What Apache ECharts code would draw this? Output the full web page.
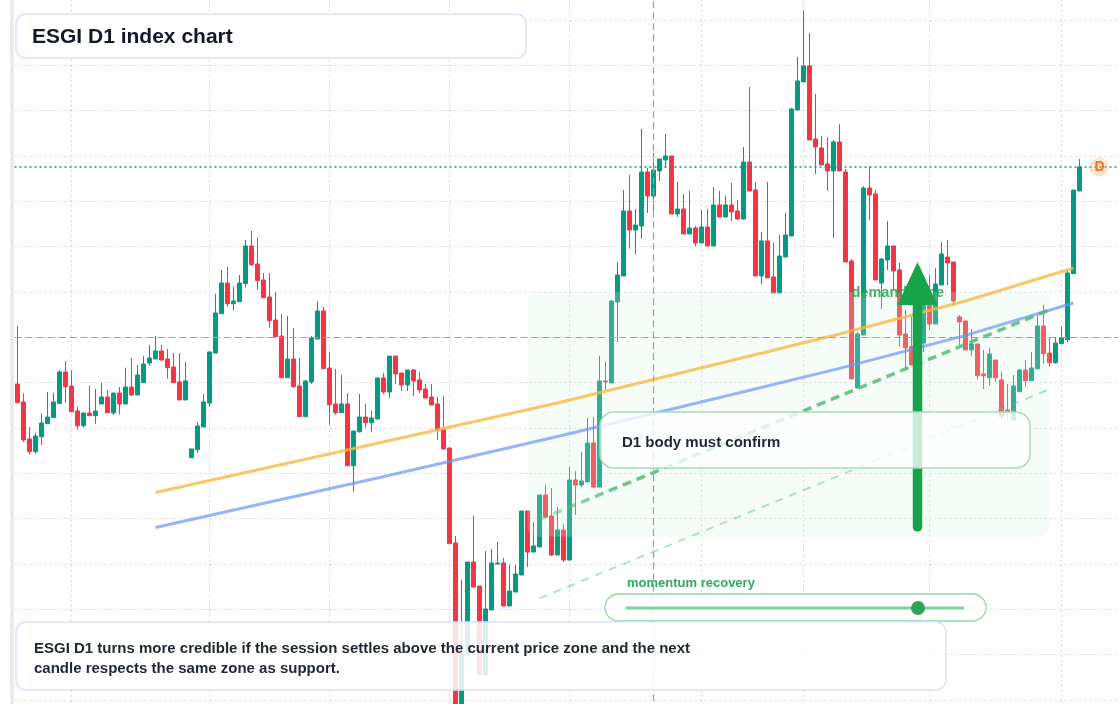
<!DOCTYPE html>
<html>
<head>
<meta charset="utf-8">
<title>ESGI D1 index chart</title>
<script src="https://cdn.jsdelivr.net/npm/echarts@6/dist/echarts.min.js"></script>
<style>
    html, body { margin: 0; padding: 0; background: #ffffff; }
    #chart { width: 1120px; height: 704px; }
</style>
</head>
<body>
<div id="chart"></div>
<script>
// daily candles: [open, close, low, high]
var candles = [
    [99.85, 97.79, 97.79, 106.25], [97.87, 93.68, 93.46, 98.83], [93.79, 92.39, 92.06, 95.11], [92.39, 94.12, 92.17, 94.48],
    [94.04, 95.55, 93.13, 96.62], [95.48, 96.21, 95.48, 98.97], [96.14, 97.87, 96.14, 98.86], [97.72, 101.18, 97.72, 101.40],
    [101.18, 99.56, 97.79, 102.39], [99.63, 96.80, 96.80, 101.32], [96.88, 95.25, 94.81, 97.32], [95.25, 96.66, 95.03, 96.66],
    [96.66, 96.36, 96.36, 99.63], [96.36, 96.88, 95.48, 99.30], [97.65, 98.42, 97.65, 99.97], [98.42, 96.69, 96.69, 99.19],
    [96.66, 98.86, 96.43, 98.86], [98.86, 97.65, 96.54, 99.52], [97.65, 99.52, 97.65, 101.65], [99.52, 98.64, 98.53, 102.72],
    [98.64, 100.85, 98.64, 101.95], [100.00, 102.06, 100.00, 102.94], [102.17, 102.72, 101.87, 104.16], [102.61, 103.50, 102.61, 105.15],
    [103.50, 102.50, 102.39, 104.16], [102.61, 101.65, 100.44, 103.72], [101.73, 100.00, 100.00, 103.27], [100.08, 98.09, 98.09, 103.27],
    [98.09, 100.19, 98.09, 102.28], [91.73, 92.69, 91.73, 92.69], [92.61, 95.22, 92.28, 95.66], [95.11, 97.87, 95.11, 98.75],
    [97.76, 103.39, 97.35, 103.39], [103.27, 107.69, 103.27, 109.78], [107.61, 110.99, 107.61, 112.43], [110.99, 108.71, 108.38, 112.76],
    [108.71, 109.01, 107.94, 110.55], [108.93, 110.99, 108.93, 111.88], [110.92, 115.08, 110.48, 115.74], [115.08, 113.01, 112.87, 116.73],
    [113.09, 111.25, 110.26, 115.99], [111.33, 109.37, 109.37, 112.10], [109.45, 106.84, 106.06, 112.10], [106.91, 105.07, 105.07, 110.00],
    [105.15, 100.55, 100.55, 107.58], [100.55, 102.61, 100.55, 107.36], [102.61, 99.56, 99.45, 106.03], [99.63, 96.25, 96.25, 102.72],
    [96.25, 100.19, 96.25, 100.30], [100.08, 104.93, 99.86, 105.15], [104.82, 107.91, 104.82, 109.01], [107.91, 101.54, 101.54, 108.35],
    [101.62, 97.57, 95.36, 103.39], [97.65, 96.69, 96.47, 101.51], [96.69, 97.65, 96.69, 100.85], [97.65, 90.84, 90.84, 98.86],
    [90.84, 94.67, 87.98, 94.67], [94.59, 96.21, 94.48, 98.75], [96.21, 95.59, 95.03, 97.65], [95.59, 96.10, 94.59, 96.88],
    [95.99, 100.52, 95.99, 100.52], [100.52, 98.97, 98.75, 101.07], [98.97, 102.94, 98.31, 102.94], [102.94, 100.96, 99.86, 102.94],
    [101.07, 99.75, 99.08, 101.07], [99.75, 101.40, 99.08, 101.40], [101.40, 100.19, 98.53, 101.51], [100.30, 99.19, 98.86, 101.18],
    [99.30, 98.31, 98.31, 99.86], [98.42, 97.54, 97.54, 99.86], [97.65, 94.78, 93.68, 98.42], [94.89, 92.69, 92.58, 98.53],
    [92.80, 82.24, 82.24, 92.80], [82.32, 64.56, 63.68, 83.09], [64.56, 69.96, 63.90, 78.24], [69.96, 80.22, 69.96, 80.22],
    [80.22, 77.46, 77.35, 85.30], [77.57, 67.76, 67.76, 77.57], [67.76, 75.04, 67.76, 81.43], [74.93, 80.11, 74.93, 81.66],
    [80.00, 80.11, 80.00, 82.43], [80.11, 75.37, 75.37, 80.66], [75.37, 77.02, 75.37, 79.89], [76.91, 78.90, 76.91, 79.89],
    [78.79, 85.85, 78.79, 85.85], [85.85, 81.32, 79.67, 85.85], [81.32, 81.99, 81.32, 84.63], [81.88, 87.61, 81.88, 87.61],
    [87.61, 85.18, 85.18, 88.71], [85.30, 80.99, 80.88, 88.38], [80.99, 83.75, 80.99, 86.29], [83.75, 80.44, 80.22, 84.41],
    [80.44, 89.27, 80.44, 90.70], [89.27, 88.71, 85.41, 90.26], [88.71, 89.16, 88.49, 92.36], [89.05, 93.35, 89.05, 96.10],
    [93.35, 88.49, 88.38, 96.21], [88.49, 100.19, 88.49, 102.94], [100.19, 100.08, 99.19, 102.28], [99.97, 109.01, 99.97, 109.12],
    [108.90, 111.88, 104.49, 113.31], [111.77, 118.94, 111.77, 121.25], [118.94, 116.84, 114.78, 122.91], [116.84, 117.39, 114.12, 119.16],
    [117.28, 123.24, 115.88, 127.98], [123.24, 120.59, 118.72, 123.68], [120.59, 123.46, 119.05, 125.33], [123.35, 124.67, 122.25, 124.67],
    [124.56, 125.00, 123.68, 127.43], [125.00, 118.61, 118.61, 125.00], [118.61, 119.16, 118.28, 122.14], [119.16, 116.40, 116.40, 120.81],
    [116.40, 117.06, 116.40, 121.14], [117.06, 115.41, 115.08, 117.28], [115.41, 117.17, 115.41, 119.05], [117.17, 115.08, 115.08, 119.16],
    [115.08, 119.60, 115.08, 121.58], [119.60, 118.28, 118.28, 121.14], [118.28, 119.60, 118.28, 120.59], [119.60, 118.83, 117.83, 122.03],
    [118.94, 118.05, 117.94, 120.15], [118.05, 124.34, 118.05, 126.00], [124.34, 121.14, 121.14, 132.61], [121.25, 111.77, 111.77, 122.14],
    [111.77, 115.63, 110.88, 116.62], [115.63, 111.55, 111.55, 122.14], [111.66, 109.89, 109.89, 115.41], [109.89, 113.97, 109.89, 116.29],
    [113.86, 116.29, 113.86, 118.72], [116.18, 130.19, 116.18, 130.30], [130.08, 133.28, 130.08, 135.92], [133.17, 134.93, 133.17, 141.03],
    [134.93, 126.77, 126.77, 138.57], [126.88, 126.00, 123.02, 131.84], [125.89, 124.01, 124.01, 127.21], [124.12, 123.35, 121.14, 127.10],
    [123.35, 126.55, 115.96, 126.77], [126.55, 123.35, 123.35, 128.53], [123.24, 113.31, 113.31, 123.57], [113.42, 100.41, 100.41, 113.64],
    [99.41, 105.37, 99.41, 105.59], [105.26, 121.47, 105.26, 121.69], [121.47, 120.70, 117.94, 123.79], [120.81, 111.33, 111.33, 121.25],
    [110.99, 113.64, 108.13, 113.75], [113.53, 115.08, 112.43, 117.83], [115.08, 112.32, 110.22, 115.08], [112.43, 105.26, 103.97, 113.20],
    [105.37, 103.83, 101.40, 108.02], [103.97, 101.95, 101.95, 107.36], [102.06, 104.27, 101.62, 104.93], [104.38, 108.57, 103.39, 109.12],
    [108.79, 106.47, 105.81, 111.88], [106.47, 110.88, 106.47, 112.65], [110.77, 114.19, 110.77, 115.52], [113.86, 113.20, 110.77, 115.74],
    [113.31, 109.01, 108.46, 113.31], [107.25, 106.69, 104.16, 107.47], [106.80, 103.61, 103.61, 106.80], [103.61, 104.27, 102.94, 105.92],
    [104.27, 100.77, 100.33, 104.27], [100.96, 100.74, 99.30, 103.61], [100.55, 103.16, 99.67, 103.83], [102.50, 100.55, 100.11, 102.50],
    [100.30, 96.25, 95.88, 101.21], [96.99, 96.77, 95.88, 99.86], [95.88, 99.63, 95.88, 100.85], [99.00, 101.40, 99.00, 101.51],
    [101.40, 100.22, 99.56, 102.50], [100.22, 101.62, 100.22, 103.39], [101.54, 106.25, 101.54, 107.47], [106.25, 103.20, 102.09, 108.57],
    [103.27, 102.20, 101.76, 105.04], [102.20, 104.38, 102.09, 105.04], [104.30, 104.93, 104.30, 106.14], [104.74, 112.10, 104.41, 112.43],
    [112.02, 121.25, 112.02, 121.25], [121.14, 123.79, 121.14, 124.67]
];

// bars on the axis, including a few empty sessions on the right
var barCount = 184;
// sessions that open a new month (vertical guides)
var monthStarts = [9, 32, 52, 72, 92, 114, 131, 152, 174];

// trend lines [barIndex, price]
var upperTrend = [[23, 87.88], [60, 93.31], [90, 97.76], [120, 102.61], [137, 105.37], [158, 109.01], [176, 112.65]];
var lowerTrend = [[23, 84.03], [60, 89.49], [90, 94.06], [120, 98.84], [137, 101.58], [158, 105.22], [176, 108.79]];
var supportRay = [[87, 84.92], [172, 108.04]];
var supportRayLow = [[87, 76.21], [172, 99.27]];

// demand zone [fromBar, toBar, top, bottom] and its label point
var demandZone = [[85, 172, 110, 83]];
var demandLabel = [139, 109.85];
// breakout arrow [bar, from, to]
var breakoutArrow = [[150, 84.1, 113.31]];

var crossBar = 106;
var crossPrice = 105;
var markerBar = 180;

var categories = [];
(function () {
    var d = new Date(2024, 8, 2);
    function pad(n) { return n < 10 ? '0' + n : '' + n; }
    while (categories.length < barCount) {
        var wd = d.getDay();
        if (wd !== 0 && wd !== 6) {
            categories.push(d.getFullYear() + '-' + pad(d.getMonth() + 1) + '-' + pad(d.getDate()));
        }
        d.setDate(d.getDate() + 1);
    }
})();

var FONT = '"Liberation Sans", Arial, sans-serif';
var UP = '#089981', DOWN = '#f23645';
var lastClose = candles[candles.length - 1][1];

var chart = echarts.init(document.getElementById('chart'));

var option = {
    animation: false,
    backgroundColor: '#ffffff',
    grid: { left: 14.5, top: -25.33, width: barCount * 6, height: 770.67, outerBoundsMode: 'none', containLabel: false },
    xAxis: {
        type: 'category',
        data: categories,
        boundaryGap: true,
        axisLine: { show: false },
        axisTick: { show: false },
        axisLabel: { show: false },
        splitLine: { show: false }
    },
    yAxis: {
        type: 'value',
        min: 60,
        max: 145,
        interval: 5,
        position: 'left',
        offset: 3,
        axisLine: { show: true, lineStyle: { color: '#e9e9e9', width: 3.5 } },
        axisTick: { show: false },
        axisLabel: { show: false },
        splitLine: { show: true, lineStyle: { color: '#d6d6d6', width: 1, type: [2, 3] } }
    },
    series: [
        {
            // month guides, behind the candles
            type: 'custom',
            z: 1,
            silent: true,
            data: monthStarts.map(function (i) { return [i]; }),
            renderItem: function (params, api) {
                var a = api.coord([api.value(0), 145]);
                var b = api.coord([api.value(0), 60]);
                return {
                    type: 'line',
                    shape: { x1: a[0], y1: a[1], x2: b[0], y2: b[1] },
                    style: { stroke: '#d6d6d6', lineWidth: 1, lineDash: [2, 3] }
                };
            }
        },
        {
            type: 'candlestick',
            z: 2,
            barWidth: 4,
            data: candles,
            itemStyle: { color: UP, color0: DOWN, borderColor: UP, borderColor0: DOWN, borderWidth: 1 },
            emphasis: { disabled: true },
            markLine: {
                silent: true,
                symbol: ['none', 'none'],
                label: { show: false },
                data: [
                    { yAxis: lastClose, lineStyle: { color: UP, width: 1.5, type: [2, 3] } },
                    { yAxis: crossPrice, lineStyle: { color: '#a0a0a0', width: 1.2, type: [7, 4] } },
                    { xAxis: categories[crossBar], lineStyle: { color: '#a0a0a0', width: 1.2, type: [7, 4] } }
                ]
            },
            markPoint: {
                silent: true,
                symbol: 'circle',
                symbolSize: 19,
                symbolOffset: [2, 0],
                itemStyle: { color: 'rgba(253,186,116,0.35)' },
                label: { show: true, formatter: 'D', color: '#f97316', fontWeight: 'bold', fontSize: 14, fontFamily: FONT },
                data: [{ coord: [categories[markerBar], lastClose] }]
            }
        },
        {
            // demand zone, washes over the candles
            type: 'custom',
            z: 3,
            silent: true,
            data: demandZone,
            renderItem: function (params, api) {
                var p0 = api.coord([api.value(0), api.value(2)]);
                var p1 = api.coord([api.value(1), api.value(3)]);
                var lp = api.coord(demandLabel);
                return {
                    type: 'group',
                    children: [
                        {
                            type: 'rect',
                            shape: { x: p0[0], y: p0[1], width: p1[0] - p0[0], height: p1[1] - p0[1], r: 10 },
                            style: { fill: 'rgba(214,244,224,0.22)' }
                        },
                        {
                            type: 'text',
                            x: lp[0],
                            y: lp[1],
                            style: {
                                text: 'demand zone',
                                fill: 'rgba(34,163,79,0.85)',
                                font: 'bold 14.5px ' + FONT,
                                align: 'left',
                                verticalAlign: 'middle'
                            }
                        }
                    ]
                };
            }
        },
        {
            type: 'line', z: 4, silent: true, symbol: 'none', data: upperTrend,
            lineStyle: { color: '#f5b945', width: 3, opacity: 0.8 }
        },
        {
            type: 'line', z: 4, silent: true, symbol: 'none', data: lowerTrend,
            lineStyle: { color: '#6b96f0', width: 3, opacity: 0.7 }
        },
        {
            type: 'line', z: 4, silent: true, symbol: 'none', data: supportRay,
            lineStyle: {
                width: 3.5,
                type: [9, 6],
                color: {
                    type: 'linear', x: 0, y: 0, x2: 1, y2: 0,
                    colorStops: [
                        { offset: 0, color: 'rgba(72,184,112,0.35)' },
                        { offset: 0.15, color: 'rgba(72,184,112,0.8)' },
                        { offset: 1, color: 'rgba(72,184,112,0.8)' }
                    ]
                }
            }
        },
        {
            type: 'line', z: 4, silent: true, symbol: 'none', data: supportRayLow,
            lineStyle: { color: 'rgba(88,190,125,0.45)', width: 2, type: [8, 7] }
        },
        {
            type: 'custom',
            z: 5,
            silent: true,
            data: breakoutArrow,
            renderItem: function (params, api) {
                var b = api.coord([api.value(0), api.value(1)]);
                var t = api.coord([api.value(0), api.value(2)]);
                var headH = 43, headW = 40;
                return {
                    type: 'group',
                    children: [
                        {
                            type: 'line',
                            shape: { x1: b[0], y1: b[1], x2: t[0], y2: t[1] + headH - 2 },
                            style: { stroke: '#16a34a', lineWidth: 9.5, lineCap: 'round' }
                        },
                        {
                            type: 'polygon',
                            shape: { points: [[t[0], t[1]], [t[0] - headW / 2, t[1] + headH], [t[0] + headW / 2, t[1] + headH]] },
                            style: { fill: '#16a34a' }
                        }
                    ]
                };
            }
        }
    ],
    graphic: [
        {
            type: 'rect', z: 100, silent: true,
            shape: { x: 16, y: 14, width: 510, height: 44, r: 10 },
            style: { fill: 'rgba(255,255,255,0.92)', stroke: '#d6e3fb', lineWidth: 1.5 }
        },
        {
            type: 'text', z: 101, silent: true, x: 32, y: 37,
            style: { text: 'ESGI D1 index chart', font: 'bold 21px ' + FONT, fill: '#111827', verticalAlign: 'middle' }
        },
        {
            type: 'rect', z: 100, silent: true,
            shape: { x: 600, y: 412, width: 430, height: 56, r: 14 },
            style: { fill: 'rgba(255,255,255,0.78)', stroke: '#a6dcb8', lineWidth: 1.5 }
        },
        {
            type: 'text', z: 101, silent: true, x: 622, y: 443,
            style: { text: 'D1 body must confirm', font: 'bold 15px ' + FONT, fill: '#1f2733', verticalAlign: 'middle' }
        },
        {
            type: 'text', z: 101, silent: true, x: 627, y: 583,
            style: { text: 'momentum recovery', font: 'bold 13px ' + FONT, fill: '#2faa5c', verticalAlign: 'middle' }
        },
        {
            type: 'rect', z: 100, silent: true,
            shape: { x: 605, y: 594, width: 381, height: 27, r: 13.5 },
            style: { fill: 'rgba(255,255,255,0.8)', stroke: '#95d5a9', lineWidth: 1.3 }
        },
        {
            type: 'line', z: 101, silent: true,
            shape: { x1: 627, y1: 608, x2: 963, y2: 608 },
            style: { stroke: '#7fd09b', lineWidth: 3, lineCap: 'round' }
        },
        {
            type: 'circle', z: 102, silent: true,
            shape: { cx: 918, cy: 608, r: 7 },
            style: { fill: '#2ea35a' }
        },
        {
            type: 'rect', z: 100, silent: true,
            shape: { x: 16, y: 622, width: 930, height: 68, r: 10 },
            style: { fill: 'rgba(255,255,255,0.86)', stroke: '#d6e3fb', lineWidth: 1.5 }
        },
        {
            type: 'text', z: 101, silent: true, x: 34, y: 658.5,
            style: {
                text: 'ESGI D1 turns more credible if the session settles above the current price zone and the next\ncandle respects the same zone as support.',
                font: 'bold 15px ' + FONT,
                lineHeight: 20,
                fill: '#1f2733',
                verticalAlign: 'middle'
            }
        }
    ]
};

chart.setOption(option);
</script>
</body>
</html>
